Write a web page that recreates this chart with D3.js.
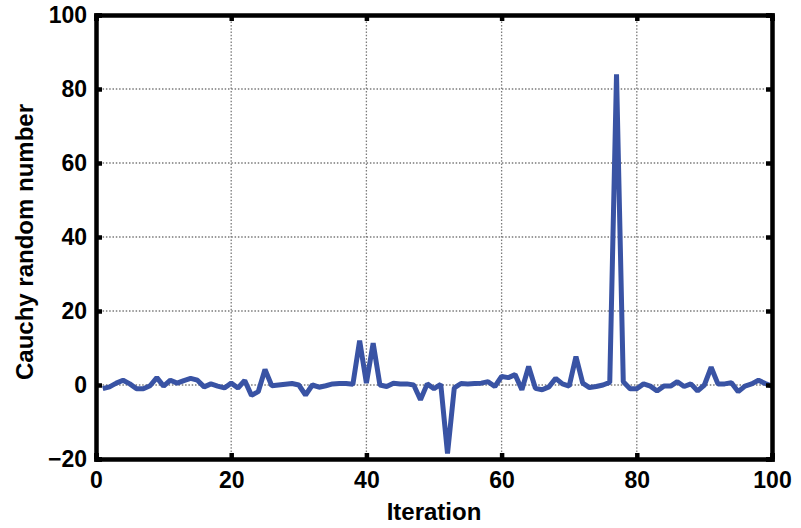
<!DOCTYPE html>
<html><head><meta charset="utf-8">
<script src="https://cdn.jsdelivr.net/npm/d3@7"></script>
<style>html,body{margin:0;padding:0;background:#fff;}svg{display:block;}</style>
</head><body><svg id="c" width="801" height="528"></svg>
<script>
const iterations = d3.range(1, 101);
const values = [
 -1, -0.5, 0.5, 1.3, 0.3, -1, -1, -0.2, 2, -0.3,
 1.3, 0.5, 1.2, 1.8, 1.3, -0.5, 0.3, -0.3, -0.8, 0.5,
 -0.8, 1.2, -2.8, -1.8, 4.2, -0.2, 0, 0.2, 0.4, 0,
 -2.7, 0, -0.6, -0.2, 0.3, 0.4, 0.4, 0.2, 12, 0.5,
 11.3, 0, -0.4, 0.5, 0.3, 0.3, 0, -4, 0.3, -1,
 0.2, -18.5, -0.8, 0.4, 0.3, 0.4, 0.5, 0.9, -0.4, 2.3,
 2, 2.8, -1.3, 5, -0.9, -1.3, -0.5, 1.8, 0.3, -0.3,
 7.7, 0.5, -0.7, -0.4, 0, 0.7, 84, 0.9, -1, -1,
 0.3, -0.3, -1.6, -0.3, -0.3, 0.9, -0.4, 0.3, -1.6, 0,
 4.8, 0.3, 0.3, 0.6, -1.8, -0.3, 0.3, 1.3, 0.4, -0.3
];
const xTicks = [0, 20, 40, 60, 80, 100];
const yTicks = [-20, 0, 20, 40, 60, 80, 100];
const xLabel = "Iteration";
const yLabel = "Cauchy random number";

(function () {
const svg = d3.select("#c");
const m = {l: 96, r: 772, t: 15, b: 459};
const x = d3.scaleLinear().domain([0, 100]).range([m.l, m.r]);
const y = d3.scaleLinear().domain([-20, 100]).range([m.b, m.t]);
const font = "'Liberation Sans', Arial, sans-serif";

const g = svg.append("g");
g.selectAll(".gx").data(xTicks.slice(1, -1)).join("line")
  .attr("x1", d => x(d)).attr("x2", d => x(d)).attr("y1", m.t).attr("y2", m.b)
  .attr("stroke", "#7a7a7a").attr("stroke-width", 1.3).attr("stroke-dasharray", "1.5,1.8");
g.selectAll(".gy").data(yTicks.slice(1, -1)).join("line")
  .attr("y1", d => y(d)).attr("y2", d => y(d)).attr("x1", m.l).attr("x2", m.r)
  .attr("stroke", "#7a7a7a").attr("stroke-width", 1.3).attr("stroke-dasharray", "1.5,1.8");

const line = d3.line().x((d, i) => x(iterations[i])).y(d => y(d));
svg.append("path").datum(values).attr("d", line)
  .attr("fill", "none").attr("stroke", "#3953a4").attr("stroke-width", 5)
  .attr("stroke-linejoin", "bevel");

const ax = svg.append("g").attr("font-family", font);
const aBottom = d3.axisBottom(x).tickValues(xTicks).tickSize(-6).tickPadding(13);
const aLeft = d3.axisLeft(y).tickValues(yTicks).tickSize(-6).tickPadding(9);
const aTop = d3.axisTop(x).tickValues(xTicks).tickSize(-6).tickFormat("");
const aRight = d3.axisRight(y).tickValues(yTicks).tickSize(-6).tickFormat("");
[[aBottom, `translate(0,${m.b})`], [aLeft, `translate(${m.l},0)`],
 [aTop, `translate(0,${m.t})`], [aRight, `translate(${m.r},0)`]].forEach(([a, t]) => {
  const gg = ax.append("g").attr("transform", t).call(a);
  gg.select(".domain").attr("stroke", "#000").attr("stroke-width", 4.5);
  gg.selectAll(".tick line").attr("stroke", "#000").attr("stroke-width", 4.5);
  gg.selectAll(".tick text").attr("font-size", 23).attr("font-weight", "bold")
    .attr("fill", "#000").attr("font-family", font);
});

svg.append("text").attr("x", (m.l + m.r) / 2).attr("y", 520)
  .attr("text-anchor", "middle").attr("font-family", font).attr("font-size", 24)
  .attr("font-weight", "bold").text(xLabel);
svg.append("text").attr("transform", `translate(33,242) rotate(-90)`)
  .attr("text-anchor", "middle").attr("font-family", font).attr("font-size", 24)
  .attr("font-weight", "bold").text(yLabel);
})();
</script></body></html>
